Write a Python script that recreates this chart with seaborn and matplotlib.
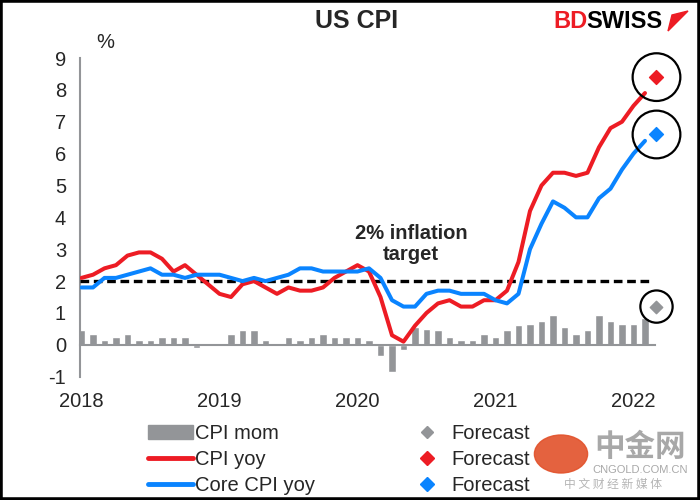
import numpy as np
import pandas as pd
import seaborn as sns
import matplotlib
matplotlib.use('Agg')
import matplotlib.pyplot as plt
from matplotlib.lines import Line2D
from matplotlib.patches import Patch, Rectangle, Circle, Polygon

# monthly data, Jan 2018 - Feb 2022
cpi_mom = [0.45, 0.35, 0.15, 0.25, 0.35, 0.15, 0.15, 0.25, 0.25, 0.25, -0.1, 0.0,
           0.0, 0.35, 0.45, 0.45, 0.15, 0.0, 0.25, 0.15, 0.25, 0.35, 0.25, 0.25,
           0.25, 0.15, -0.35, -0.85, -0.15, 0.55, 0.5, 0.45, 0.25, 0.15, 0.15, 0.35,
           0.25, 0.45, 0.63, 0.65, 0.75, 0.95, 0.55, 0.35, 0.45, 0.95, 0.75, 0.65,
           0.65, 0.85]
cpi_yoy = [2.1, 2.2, 2.4, 2.5, 2.8, 2.9, 2.9, 2.7, 2.3, 2.5, 2.2, 1.9,
           1.6, 1.5, 1.9, 2.0, 1.8, 1.6, 1.8, 1.7, 1.7, 1.8, 2.1, 2.3,
           2.5, 2.3, 1.5, 0.3, 0.1, 0.6, 1.0, 1.3, 1.4, 1.2, 1.2, 1.4,
           1.4, 1.7, 2.6, 4.2, 5.0, 5.4, 5.4, 5.3, 5.4, 6.2, 6.8, 7.0,
           7.5, 7.9]
core_yoy = [1.8, 1.8, 2.1, 2.1, 2.2, 2.3, 2.4, 2.2, 2.2, 2.1, 2.2, 2.2,
            2.2, 2.1, 2.0, 2.1, 2.0, 2.1, 2.2, 2.4, 2.4, 2.3, 2.3, 2.3,
            2.3, 2.4, 2.1, 1.4, 1.2, 1.2, 1.6, 1.7, 1.7, 1.6, 1.6, 1.6,
            1.4, 1.3, 1.6, 3.0, 3.8, 4.5, 4.3, 4.0, 4.0, 4.6, 4.9, 5.5,
            6.0, 6.4]
# forecasts for Mar 2022
fc_mom = 1.2
fc_yoy = 8.4
fc_core = 6.6
anos = ["2018", "2019", "2020", "2021", "2022"]
meta = 2

cinza = "#939598"
vermelho = "#ED1C24"
azul = "#0A84FF"

df = pd.DataFrame({"mes": np.arange(len(cpi_yoy)), "mom": cpi_mom,
                   "yoy": cpi_yoy, "core": core_yoy})
fc_x = len(df)

sns.set_style("white")
plt.rcParams['font.family'] = ['Liberation Sans', 'Noto Sans CJK SC', 'DejaVu Sans']
plt.rcParams['axes.unicode_minus'] = False

fig = plt.figure(figsize=(7, 5), dpi=100)
ax = fig.add_axes([80/700, 1-376.7/500, 575/700, 318.7/500])

sns.barplot(data=df, x="mes", y="mom", native_scale=True, color=cinza,
            saturation=1, width=0.62, errorbar=None, ax=ax, zorder=2)
ax.axhline(meta, xmin=0, xmax=0.994, color="black", lw=2.4,
           linestyle=(0, (2.6, 1.4)), zorder=3)
sns.lineplot(data=df, x="mes", y="yoy", color=vermelho, lw=2.9, ax=ax,
             solid_capstyle="round", zorder=4)
sns.lineplot(data=df, x="mes", y="core", color=azul, lw=2.9, ax=ax,
             solid_capstyle="round", zorder=4)

# forecast markers + circles
ax.scatter([fc_x], [fc_mom], marker="D", s=40, color=cinza, clip_on=False, zorder=5)
ax.scatter([fc_x], [fc_yoy], marker="D", s=50, color=vermelho, clip_on=False, zorder=5)
ax.scatter([fc_x], [fc_core], marker="D", s=50, color=azul, clip_on=False, zorder=5)
ax.scatter([fc_x, fc_x], [fc_yoy, fc_core], marker="o", s=1180, facecolors="none",
           edgecolors="black", linewidths=1.6, clip_on=False, zorder=5)
ax.scatter([fc_x], [fc_mom], marker="o", s=540, facecolors="none",
           edgecolors="black", linewidths=1.6, clip_on=False, zorder=5)

ax.text(28.65, 3.16, "2% inflation\ntarget", ha="center", va="center",
        fontsize=14.5, fontweight="bold", linespacing=1.15)

ax.set_xlim(-0.13, 49.87)
ax.set_ylim(-1, 9)
ax.set_xlabel("")
ax.set_ylabel("")
ax.set_yticks(range(-1, 10))
ax.set_xticks([0, 12, 24, 36, 48])
ax.set_xticklabels(anos)
for s in ["top", "right"]:
    ax.spines[s].set_visible(False)
ax.spines["bottom"].set_position(("data", 0))
for s in ["bottom", "left"]:
    ax.spines[s].set_color(cinza)
    ax.spines[s].set_linewidth(1.5)
ax.tick_params(axis="x", length=5, width=1.5, color=cinza, pad=29, labelsize=14.5)
ax.tick_params(axis="y", length=4, width=1.5, color=cinza, pad=6, labelsize=14.5)

fig.text(105/700, 1-42/500, "%", ha="center", va="center", fontsize=14.5)
fig.text(357/700, 1-21/500, "US CPI", ha="center", va="center",
         fontsize=18, fontweight="bold")

# logo
fig.text(553/700, 1-22/500, "BD", ha="left", va="center", fontsize=17,
         fontweight="bold", color=vermelho)
fig.text(586/700, 1-22/500, "SWISS", ha="left", va="center", fontsize=17,
         fontweight="bold", color="black")
fig.patches.append(Polygon([(668/700, 1-31/500), (688/700, 1-11/500), (672/700, 1-15/500)],
                           closed=True, transform=fig.transFigure, color=vermelho))

handles = [Patch(color=cinza),
           Line2D([], [], color=vermelho, lw=3.5),
           Line2D([], [], color=azul, lw=3.5),
           Line2D([], [], color=cinza, marker="D", ls="none", ms=6),
           Line2D([], [], color=vermelho, marker="D", ls="none", ms=7),
           Line2D([], [], color=azul, marker="D", ls="none", ms=7)]
labels = ["CPI mom", "CPI yoy", "Core CPI yoy", "Forecast", "Forecast", "Forecast"]
fig.legend(handles, labels, ncol=2, loc="upper left",
           bbox_to_anchor=(148/700, 1-424/500), frameon=False, fontsize=14.5,
           handlelength=2.24, handleheight=0.65, handletextpad=0.08,
           columnspacing=4.45, labelspacing=0.34, borderpad=0, borderaxespad=0)

# watermark
fig.patches.append(Circle((561/700, 1-454/500), 19/500, transform=fig.transFigure,
                          color="#E2512A", alpha=0.9))
fig.text(640/700, 1-447/500, "中金网", ha="center", va="center", fontsize=22,
         fontweight="bold", color="#a8a8a8", family=["Noto Sans CJK SC"])
fig.text(640/700, 1-470/500, "CNGOLD.COM.CN", ha="center", va="center",
         fontsize=8, color="#a8a8a8")
fig.text(613/700, 1-484/500, "中 文 财 经 新 媒 体", ha="center", va="center",
         fontsize=8.5, color="#b5b5b5", family=["Noto Sans CJK SC"])

fig.patches.append(Rectangle((0, 0), 1, 1, transform=fig.transFigure,
                             fill=False, edgecolor="black", lw=4))

fig.savefig("out.png", dpi=100)
